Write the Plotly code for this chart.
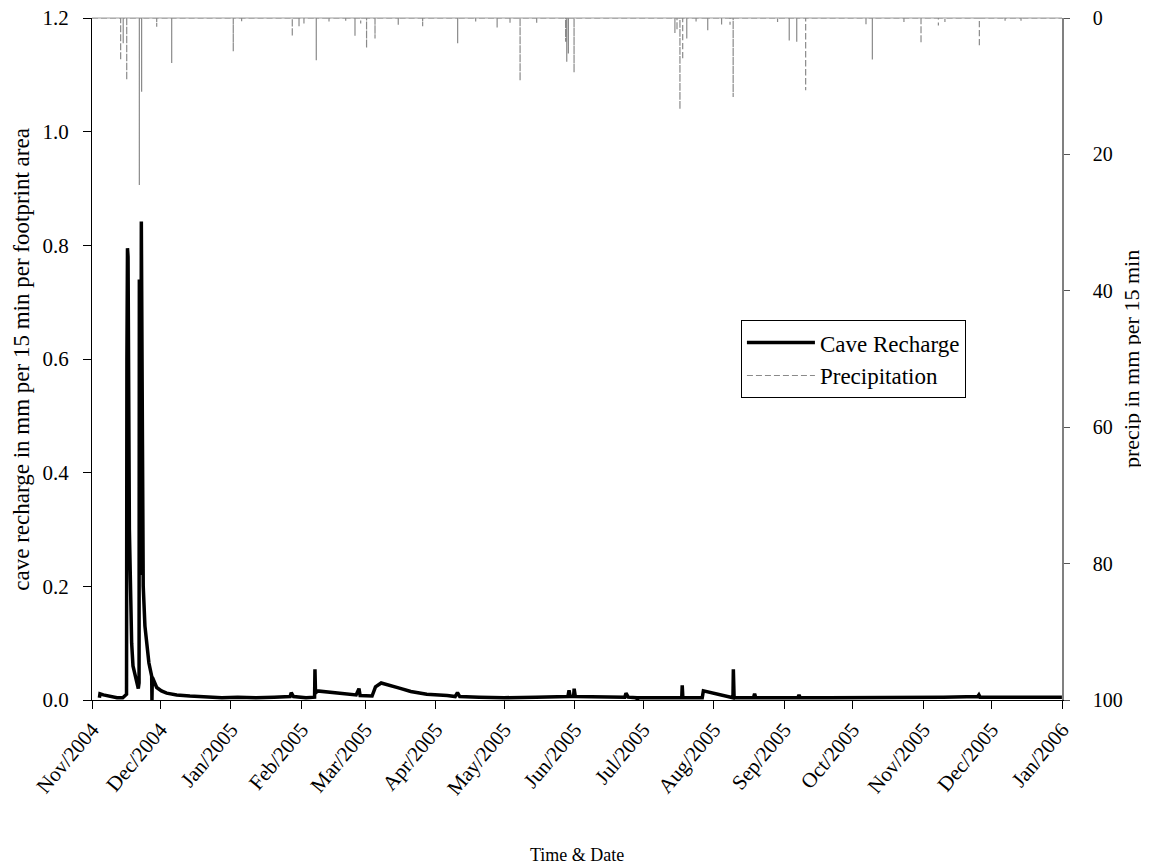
import plotly.graph_objects as go

# ---------------- data ----------------
recharge_time = [
    "2004-11-04 06:00", "2004-11-04 12:00", "2004-11-06 00:00", "2004-11-09 00:00",
    "2004-11-12 00:00", "2004-11-14 12:00", "2004-11-15 12:00", "2004-11-16 04:00",
    "2004-11-16 08:00", "2004-11-16 14:00", "2004-11-16 20:00", "2004-11-17 10:00",
    "2004-11-17 20:00", "2004-11-18 10:00", "2004-11-19 00:00", "2004-11-19 21:00",
    "2004-11-20 18:00", "2004-11-21 08:00", "2004-11-21 16:00", "2004-11-21 19:00",
    "2004-11-22 04:00", "2004-11-22 10:00", "2004-11-22 16:00", "2004-11-23 04:00",
    "2004-11-23 12:00", "2004-11-24 06:00", "2004-11-25 00:00", "2004-11-26 00:00",
    "2004-11-27 05:00", "2004-11-27 08:00", "2004-11-27 12:00", "2004-11-29 10:00",
    "2004-12-01 12:00", "2004-12-03 19:00", "2004-12-08 05:00", "2004-12-14 00:00",
    "2004-12-21 00:00", "2004-12-28 00:00", "2005-01-04 00:00", "2005-01-12 00:00",
    "2005-01-20 00:00", "2005-01-27 00:00", "2005-01-27 12:00", "2005-01-28 12:00",
    "2005-02-03 00:00", "2005-02-06 18:00", "2005-02-06 22:00", "2005-02-07 04:00",
    "2005-02-08 00:00", "2005-02-12 00:00", "2005-02-17 00:00", "2005-02-22 00:00",
    "2005-02-25 00:00", "2005-02-26 06:00", "2005-02-26 18:00", "2005-03-04 00:00",
    "2005-03-05 12:00", "2005-03-08 00:00", "2005-03-12 00:00", "2005-03-16 00:00",
    "2005-03-21 00:00", "2005-03-28 00:00", "2005-04-06 00:00", "2005-04-09 12:00",
    "2005-04-10 12:00", "2005-04-11 12:00", "2005-04-20 00:00", "2005-05-01 00:00",
    "2005-05-15 00:00", "2005-05-25 00:00", "2005-05-29 00:00", "2005-05-29 12:00",
    "2005-05-30 00:00", "2005-05-31 12:00", "2005-05-31 18:00", "2005-06-01 06:00",
    "2005-06-15 00:00", "2005-06-23 00:00", "2005-06-23 12:00", "2005-06-24 12:00",
    "2005-06-28 00:00", "2005-06-28 12:00", "2005-06-29 00:00", "2005-07-10 00:00",
    "2005-07-18 00:00", "2005-07-18 05:00", "2005-07-18 12:00", "2005-07-26 00:00",
    "2005-07-27 00:00", "2005-07-27 12:00", "2005-08-09 12:00", "2005-08-09 16:00",
    "2005-08-10 00:00", "2005-08-18 12:00", "2005-08-19 00:00", "2005-08-19 12:00",
    "2005-09-01 00:00", "2005-09-07 00:00", "2005-09-07 12:00", "2005-09-08 00:00",
    "2005-09-20 00:00", "2005-10-10 00:00", "2005-10-25 00:00", "2005-11-10 00:00",
    "2005-11-25 00:00", "2005-11-25 12:00", "2005-11-26 00:00", "2005-12-10 00:00",
    "2005-12-20 00:00", "2005-12-31 23:00",
]
recharge_value = [
    0.004, 0.011, 0.009, 0.006,
    0.004, 0.004, 0.008, 0.010,
    0.600, 0.795, 0.780, 0.300,
    0.200, 0.100, 0.060, 0.042,
    0.028, 0.020, 0.030, 0.740,
    0.720, 0.220, 0.842, 0.450,
    0.200, 0.130, 0.100, 0.065,
    0.042, 0.000, 0.040, 0.022,
    0.016, 0.012, 0.009, 0.007,
    0.006, 0.004, 0.005, 0.004,
    0.005, 0.006, 0.013, 0.006,
    0.004, 0.005, 0.054, 0.012,
    0.016, 0.014, 0.012, 0.010,
    0.009, 0.020, 0.008, 0.007,
    0.023, 0.030, 0.026, 0.021,
    0.015, 0.010, 0.008, 0.006,
    0.013, 0.006, 0.005, 0.004,
    0.005, 0.006, 0.006, 0.017,
    0.006, 0.006, 0.020, 0.006,
    0.005, 0.005, 0.012, 0.005,
    0.004, 0.001, 0.004, 0.004,
    0.004, 0.026, 0.004, 0.004,
    0.004, 0.016, 0.004, 0.054,
    0.004, 0.004, 0.011, 0.004,
    0.004, 0.004, 0.009, 0.004,
    0.004, 0.004, 0.005, 0.005,
    0.006, 0.009, 0.005, 0.005,
    0.005, 0.005,
]

precip_time = [
    "2004-11-13 14:00", "2004-11-14 17:00", "2004-11-16 06:00", "2004-11-21 19:00",
    "2004-11-22 19:00", "2004-11-29 10:00", "2004-12-06 00:00", "2005-01-02 01:00",
    "2005-01-05 17:00", "2005-01-27 23:00", "2005-01-30 22:00", "2005-02-02 02:00",
    "2005-02-07 12:00", "2005-02-13 02:00", "2005-02-20 10:00", "2005-02-24 12:00",
    "2005-02-27 00:00", "2005-03-01 14:00", "2005-03-05 07:00", "2005-03-15 12:00",
    "2005-03-26 05:00", "2005-04-10 14:00", "2005-04-18 12:00", "2005-04-27 22:00",
    "2005-05-03 14:00", "2005-05-08 00:00", "2005-05-15 07:00", "2005-05-28 00:00",
    "2005-05-28 12:00", "2005-05-29 05:00", "2005-05-31 17:00", "2005-07-15 00:00",
    "2005-07-15 22:00", "2005-07-17 05:00", "2005-07-18 10:00", "2005-07-20 05:00",
    "2005-07-24 07:00", "2005-07-29 10:00", "2005-08-04 12:00", "2005-08-08 05:00",
    "2005-08-09 14:00", "2005-08-29 02:00", "2005-09-03 05:00", "2005-09-06 12:00",
    "2005-09-10 10:00", "2005-10-06 22:00", "2005-10-09 17:00", "2005-10-23 14:00",
    "2005-10-31 02:00", "2005-11-07 17:00", "2005-11-10 14:00", "2005-11-25 17:00",
    "2005-12-07 00:00", "2005-12-14 00:00",
]
precip_value = [
    6.2, 3.7, 9.1, 24.5,
    10.8, 1.3, 6.6, 4.9,
    0.6, 2.7, 1.2, 1.0,
    6.2, 0.5, 0.5, 2.6,
    0.8, 4.4, 3.0, 1.0,
    1.2, 3.7, 0.5, 1.4,
    0.7, 9.2, 0.7, 3.5,
    6.4, 5.2, 8.0, 2.2,
    1.8, 13.4, 6.1, 3.0,
    0.6, 1.8, 1.1, 1.0,
    11.6, 0.6, 3.3, 3.5,
    10.6, 1.1, 6.1, 0.6,
    3.7, 1.1, 0.6, 4.2,
    0.4, 0.4,
]

x_range = ["2004-11-01", "2006-01-01"]
x_tickvals = ["2004-11-01", "2004-12-01", "2005-01-01", "2005-02-01", "2005-03-01",
              "2005-04-01", "2005-05-01", "2005-06-01", "2005-07-01", "2005-08-01",
              "2005-09-01", "2005-10-01", "2005-11-01", "2005-12-01", "2006-01-01"]
x_ticktext = ["Nov/2004", "Dec/2004", "Jan/2005", "Feb/2005", "Mar/2005", "Apr/2005",
              "May/2005", "Jun/2005", "Jul/2005", "Aug/2005", "Sep/2005", "Oct/2005",
              "Nov/2005", "Dec/2005", "Jan/2006"]
y_left_ticks = [0, 0.2, 0.4, 0.6, 0.8, 1.0, 1.2]
y_right_ticks = [0, 20, 40, 60, 80, 100]

# precipitation drawn as spikes hanging from the zero line (top of the reversed axis)
px, py = [x_range[0]], [0]
for t, v in zip(precip_time, precip_value):
    px += [t, t, t]
    py += [0, v, 0]
px.append(x_range[1])
py.append(0)

FONT = "Liberation Serif, Times New Roman, serif"

fig = go.Figure()
fig.add_trace(go.Scatter(
    x=px, y=py, yaxis="y2", mode="lines", name="Precipitation",
    line=dict(color="#8a8a8a", width=1.2, dash="6px,3px"),
))
fig.add_trace(go.Scatter(
    x=recharge_time, y=recharge_value, mode="lines", name="Cave Recharge",
    line=dict(color="black", width=3.5),
))

fig.update_layout(
    width=1149, height=868,
    margin=dict(l=84, r=95, t=10, b=176, autoexpand=False),
    paper_bgcolor="white", plot_bgcolor="white",
    font=dict(family=FONT, size=21, color="black"),
    showlegend=True,
    legend=dict(
        x=0.669, y=0.557, xanchor="left", yanchor="top",
        bordercolor="black", borderwidth=1, bgcolor="white",
        traceorder="reversed", font=dict(family=FONT, size=23),
        itemwidth=68, tracegroupgap=0,
    ),
    xaxis=dict(
        range=x_range, tickmode="array", tickvals=x_tickvals, ticktext=x_ticktext,
        tickangle=-50, ticks="outside", ticklen=8, tickcolor="black",
        tickfont=dict(size=21), ticklabeloverflow="allow",
        showline=True, linecolor="black", linewidth=1, showgrid=False, zeroline=False,
        automargin=False, ticklabelstandoff=0,
    ),
    yaxis=dict(
        range=[0, 1.2], tickvals=y_left_ticks, tickformat=".1f",
        ticks="outside", ticklen=8, tickcolor="black", tickfont=dict(size=21),
        ticklabeloverflow="allow",
        showline=True, linecolor="black", linewidth=1, showgrid=False, zeroline=False,
        automargin=False, ticklabelstandoff=10,
    ),
    yaxis2=dict(
        overlaying="y", side="right", range=[100, 0], tickvals=y_right_ticks,
        ticks="outside", ticklen=6, tickcolor="#555555", tickfont=dict(size=20),
        ticklabeloverflow="allow",
        showline=True, linecolor="#808080", linewidth=1.5, showgrid=False, zeroline=False,
        automargin=False, ticklabelstandoff=19,
    ),
    shapes=[dict(type="line", xref="paper", yref="paper", x0=0, x1=1, y0=1, y1=1,
                 line=dict(color="#9a9a9a", width=1), layer="below")],
    annotations=[
        dict(text="Time & Date", xref="paper", yref="paper", x=0.5, y=-0.2273,
             xanchor="center", yanchor="middle", showarrow=False,
             font=dict(family=FONT, size=18)),
        dict(text="cave recharge in mm per 15 min per footprint area", xref="paper",
             yref="paper", x=-0.0735, y=0.5, xanchor="center", yanchor="middle",
             textangle=-90, showarrow=False, font=dict(family=FONT, size=23)),
        dict(text="precip in mm per 15 min", xref="paper", yref="paper",
             x=1.0711, y=0.5, xanchor="center", yanchor="middle",
             textangle=-90, showarrow=False, font=dict(family=FONT, size=22)),
    ],
)

fig.write_html("out.html")
